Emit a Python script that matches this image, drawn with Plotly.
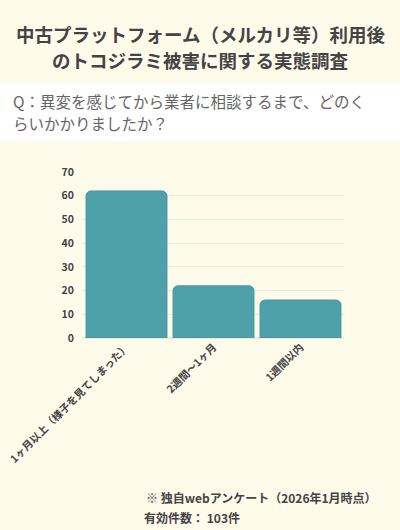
import plotly.graph_objects as go

categories = ["1ヶ月以上（様子を見てしまった）", "2週間〜1ヶ月", "1週間以内"]
counts = [62, 22, 16]
y_ticks = [0, 10, 20, 30, 40, 50, 60, 70]

title_lines = ["中古プラットフォーム（メルカリ等）利用後", "のトコジラミ被害に関する実態調査"]
question_lines = ["Q：異変を感じてから業者に相談するまで、どのく", "らいかかりましたか？"]
source_lines = ["※ 独自webアンケート（2026年1月時点）", "有効件数： 103件"]

FONT = "Noto Sans CJK JP"
BG = "#fefbeb"

# plot area: x 83..344 px, y 172..338 px
def px_x(px):
    return (px - 83) / 261

def px_y(py):
    return (338 - py) / 166

fig = go.Figure()
fig.add_trace(go.Bar(
    x=categories, y=counts,
    marker=dict(color="#4fa1a9", line=dict(color="#44979f", width=1)),
    hoverinfo="skip",
))

# white band behind the question
fig.add_shape(type="rect", xref="paper", yref="paper",
              x0=-1, x1=2, y0=px_y(141), y1=px_y(83),
              fillcolor="white", line_width=0, layer="below")

for text, py in zip(title_lines, [34, 60]):
    fig.add_annotation(text=text, xref="paper", yref="paper",
                       x=px_x(200), y=px_y(py), xanchor="center", yanchor="middle",
                       showarrow=False,
                       font=dict(family=FONT, size=18.5, color="#444444", weight=700))

for text, py in zip(question_lines, [101, 123]):
    fig.add_annotation(text=text, xref="paper", yref="paper",
                       x=px_x(11), y=px_y(py), xanchor="left", yanchor="middle",
                       showarrow=False,
                       font=dict(family=FONT, size=15.5, color="#666666"))

for text, px, py in zip(source_lines, [144, 142], [497, 517]):
    fig.add_annotation(text=text, xref="paper", yref="paper",
                       x=px_x(px), y=px_y(py), xanchor="left", yanchor="middle",
                       showarrow=False,
                       font=dict(family=FONT, size=12, color="#444444", weight=700))

fig.update_layout(
    width=400, height=530,
    margin=dict(l=83, r=56, t=172, b=192, autoexpand=False),
    paper_bgcolor=BG, plot_bgcolor=BG,
    bargap=0.07, barcornerradius=5,
    showlegend=False,
    font=dict(family=FONT, color="#444444"),
    xaxis=dict(tickangle=-45, showgrid=False, showline=False, automargin=False,
               tickfont=dict(family=FONT, size=10.5, color="#444444", weight=700),
               fixedrange=True),
    yaxis=dict(range=[0, 70], tickvals=y_ticks, showline=False, automargin=False,
               gridcolor="#ebe9dc", gridwidth=1, zeroline=True,
               zerolinecolor="#ebe9dc",
               tickfont=dict(family=FONT, size=10.5, color="#444444", weight=700),
               ticklabelstandoff=8, fixedrange=True),
)

fig.write_html("out.html", config={"displayModeBar": False},
               post_script="document.body.style.margin='0';")
